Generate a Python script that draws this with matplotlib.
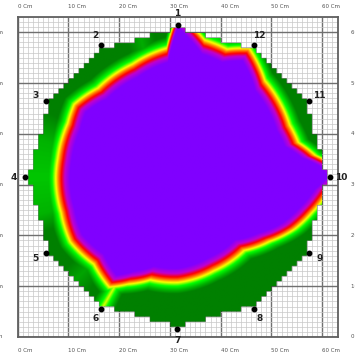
import numpy as np
import matplotlib
matplotlib.use('Agg')
import matplotlib.pyplot as plt
from matplotlib.colors import LinearSegmentedColormap
from matplotlib.path import Path
from matplotlib.transforms import blended_transform_factory

# Board size and sensor ring (cm)
board_size = 63
center_x, center_y = 31.5, 31.5
sensor_radius = 30.0
edge_radius = 29.4
sensor_labels = ['1', '2', '3', '4', '5', '6', '7', '8', '9', '10', '11', '12']
sensor_angle = [90, 120, 150, 180, 210, 240, 270, 300, 330, 0, 30, 60]

# Radius of the purple core (cm) read at several angles (deg)
core_angle = [0, 4, 9, 16, 25, 36, 48, 61, 69, 79, 86, 90, 95, 112, 122, 132,
              145, 154, 171, 180, 197, 211, 226, 238, 245, 255, 270, 291, 312,
              325, 336, 345, 355, 358]
core_radius = [29.5, 28.3, 24.6, 21.9, 21.5, 22.1, 22.8, 26.2, 24.2, 24.7, 27.6,
               29.5, 22.7, 21.2, 21.0, 20.8, 22.2, 21.4, 21.2, 21.3, 21.3, 22.0,
               21.1, 22.8, 20.5, 18.2, 18.0, 17.0, 16.7, 19.3, 22.4, 24.5, 27.1,
               28.6]

# Darkest level reached at the rim (cm beyond the core) read around the ring
edge_angle = [0, 15, 30, 45, 55, 60, 65, 75, 90, 105, 120, 135, 150, 165, 180,
              195, 210, 225, 235, 240, 245, 255, 270, 285, 300, 315, 330, 345]
edge_limit = [6, 6, 6, 6, 6, 3.1, 4.7, 3.7, 6, 4.4, 6, 6, 5.2, 4.3, 4.1,
              4.3, 5.7, 4.5, 5.2, 2.9, 5.2, 6, 6, 6, 5.6, 6, 6, 6]

x_ticks = [0, 10, 20, 30, 40, 50, 60]
y_ticks = [0, 10, 20, 30, 40, 50, 60]

# colour ramp by distance outside the core (cm), 0..6
cmap = LinearSegmentedColormap.from_list('heat', [
    (0.0, '#8000ff'),
    (1.0 / 6, '#c000d0'),
    (1.7 / 6, '#ff0000'),
    (2.3 / 6, '#ff8000'),
    (2.8 / 6, '#ffff00'),
    (3.5 / 6, '#00ff00'),
    (4.3 / 6, '#00b400'),
    (5.0 / 6, '#008000'),
    (1.0, '#008000'),
])
cmap.set_bad((0, 0, 0, 0))

fig = plt.figure(figsize=(3.55, 3.55), dpi=100)
ax = fig.add_axes([17 / 355, 18 / 355, 321 / 355, 320 / 355])

# field on a fine grid
xs = np.linspace(0, board_size, 631)
X, Y = np.meshgrid(xs, xs)
R = np.hypot(X - center_x, Y - center_y)
T = np.degrees(np.arctan2(Y - center_y, X - center_x)) % 360
core = np.interp(T, core_angle, core_radius, period=360)
cap = np.interp(T, edge_angle, edge_limit, period=360)
level = np.minimum(R - core, cap)

# outline of the measured area (polygon through the sensors), stepped edge
ang = np.radians(sensor_angle)
order = np.argsort(ang)
poly = np.column_stack([center_x + edge_radius * np.cos(ang[order]),
                        center_y + edge_radius * np.sin(ang[order])])
cell = 1.0
CX = (np.floor(X / cell) + 0.5) * cell
CY = (np.floor(Y / cell) + 0.5) * cell
inside = Path(poly).contains_points(np.column_stack([CX.ravel(), CY.ravel()]))
inside = inside.reshape(X.shape)
field = np.ma.masked_where(~inside, level)

ax.imshow(field, cmap=cmap, vmin=0, vmax=6, origin='lower',
          extent=[0, board_size, 0, board_size], interpolation='bilinear', zorder=2)

# grid
ax.set_xlim(0, board_size)
ax.set_ylim(0, board_size)
ax.set_xticks(x_ticks)
ax.set_yticks(y_ticks)
ax.set_xticks(np.arange(0, board_size + 1, 1), minor=True)
ax.set_yticks(np.arange(0, board_size + 1, 1), minor=True)
ax.set_axisbelow(True)
ax.grid(which='minor', color='#c8c8c8', lw=0.5)
ax.grid(which='major', color='#707070', lw=1.0)
ax.tick_params(which='both', length=0, labelbottom=False, labelleft=False)
for s in ax.spines.values():
    s.set_color('#606060')
    s.set_linewidth(1.3)

# sensors
sx = [center_x + sensor_radius * np.cos(np.radians(a)) for a in sensor_angle]
sy = [center_y + sensor_radius * np.sin(np.radians(a)) for a in sensor_angle]
ax.plot(sx, sy, 'o', color='black', ms=3.2, zorder=5, clip_on=False)
for lab, a, x, y in zip(sensor_labels, sensor_angle, sx, sy):
    ox = 8.3 * np.cos(np.radians(a))
    oy = 8.3 * np.sin(np.radians(a))
    ax.annotate(lab, (x, y), xytext=(ox, oy), textcoords='offset points',
                ha='center', va='center', fontsize=6.5, fontweight='bold',
                color='#202020', zorder=6)

# axis labels drawn as text (the side ones run off the canvas, as in the original)
top = blended_transform_factory(ax.transData, fig.transFigure)
side = blended_transform_factory(fig.transFigure, ax.transData)
for v in x_ticks:
    ax.text(v, 1 - 7 / 355, f'{v} Cm', transform=top, ha='left', va='center',
            fontsize=4, color='#505050')
    ax.text(v, 4 / 355, f'{v} Cm', transform=top, ha='left', va='center',
            fontsize=4, color='#505050')
for v in y_ticks:
    ax.text(3 / 355, v, f'{v} Cm', transform=side, ha='right', va='center',
            fontsize=4, color='#505050')
    ax.text(351 / 355, v, f'{v} Cm', transform=side, ha='left', va='center',
            fontsize=4, color='#505050')

fig.savefig('out.png', dpi=100)
